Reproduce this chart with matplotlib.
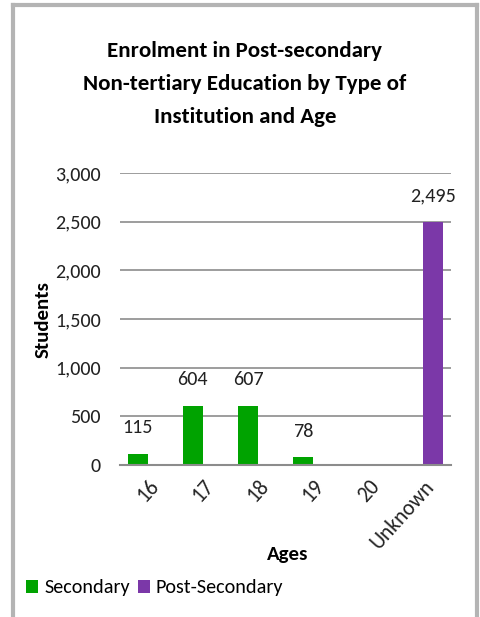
import numpy as np
import matplotlib.pyplot as plt

plt.rcParams['font.family'] = ['Carlito', 'Liberation Sans Narrow', 'Open Sans', 'DejaVu Sans']

# data
ages = ['16', '17', '18', '19', '20', 'Unknown']
secondary = [115, 604, 607, 78, 0, 0]
post_secondary = [0, 0, 0, 0, 0, 2495]
yticks = [0, 500, 1000, 1500, 2000, 2500, 3000]

green = '#00a300'
purple = '#7b38a8'

fig = plt.figure(figsize=(4.81, 6.17), dpi=100)
ax = fig.add_axes([120 / 481, 1 - 465 / 617, 331 / 481, 292 / 617])

x = np.arange(len(ages))
w = 0.36
b1 = ax.bar(x - w / 2, secondary, width=w, color=green, label='Secondary')
b2 = ax.bar(x + w / 2, post_secondary, width=w, color=purple, label='Post-Secondary')

# data labels (only non-zero)
for bars, vals in [(b1, secondary), (b2, post_secondary)]:
    for r, v in zip(bars, vals):
        if v == 0:
            continue
        ax.annotate(f'{v:,}', (r.get_x() + r.get_width() / 2, v),
                    xytext=(0, 19), textcoords='offset points',
                    ha='center', va='center', fontsize=14.5, color='#222222')

ax.set_xlim(-0.5, len(ages) - 0.5)
ax.set_ylim(0, 3000)
ax.set_yticks(yticks)
ax.set_yticklabels([f'{t:,}' for t in yticks], fontsize=14.5)
ax.set_xticks(x)
ax.set_xticklabels(ages, rotation=48, ha='right', rotation_mode='anchor', fontsize=15.5)
ax.tick_params(axis='both', length=0, colors='#222222')
ax.tick_params(axis='y', pad=14)
ax.tick_params(axis='x', pad=8)
ax.yaxis.grid(True, color='#8c8c8c', linewidth=1.2)
ax.set_axisbelow(True)
for s in ['top', 'right', 'left']:
    ax.spines[s].set_visible(False)
ax.spines['bottom'].set_color('#8c8c8c')
ax.spines['bottom'].set_linewidth(1.5)

ax.set_ylabel('Students', fontsize=15, fontweight='bold')
ax.yaxis.set_label_coords(-0.206, 0.497)
ax.set_xlabel('Ages', fontsize=15, fontweight='bold')
ax.xaxis.set_label_coords(0.505, -0.277)

fig.text(245 / 481, 1 - 84 / 617,
         'Enrolment in Post-secondary\nNon-tertiary Education by Type of\nInstitution and Age',
         ha='center', va='center', fontsize=16.5, fontweight='bold', linespacing=1.8)

fig.legend(handles=[b1, b2], loc='center left', bbox_to_anchor=(26 / 481, 1 - 588 / 617),
           ncol=2, frameon=False, fontsize=14.5, handlelength=0.6, handleheight=0.6,
           handletextpad=0.3, columnspacing=0.4, borderaxespad=0, borderpad=0)

# chart border (left, top, right)
border = '#b4b4b4'
fig.add_artist(plt.Line2D([12.5 / 481, 12.5 / 481], [0, 1 - 4.5 / 617], color=border, lw=3,
                          transform=fig.transFigure))
fig.add_artist(plt.Line2D([12.5 / 481, 477.5 / 481], [1 - 4.5 / 617, 1 - 4.5 / 617], color=border,
                          lw=3, transform=fig.transFigure))
fig.add_artist(plt.Line2D([477.5 / 481, 477.5 / 481], [0, 1 - 4.5 / 617], color=border, lw=3,
                          transform=fig.transFigure))

fig.savefig('out.png', dpi=100)
